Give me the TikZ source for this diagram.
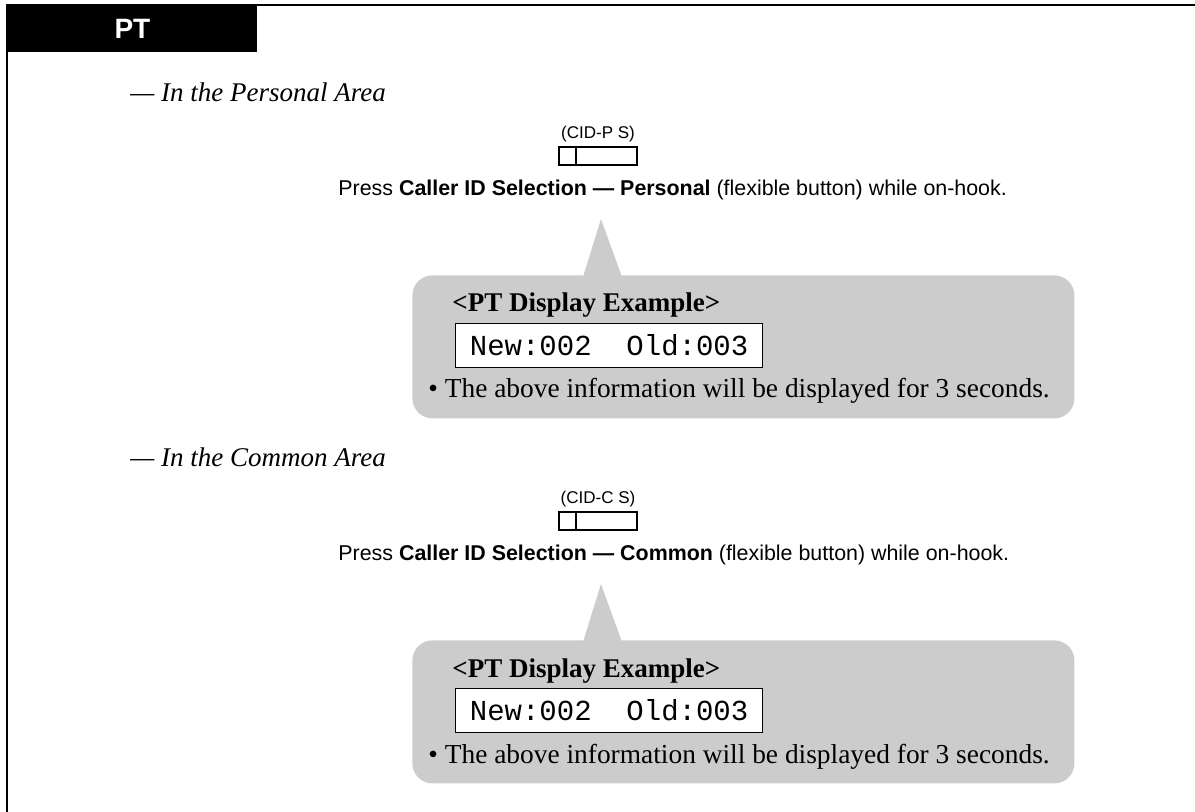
\documentclass[tikz,border=0pt]{standalone}
\usepackage{fontspec}
\setmainfont{Liberation Serif}
\setsansfont{Liberation Sans}
\setmonofont{Liberation Mono}
\usetikzlibrary{positioning, calc}
\definecolor{callout-gray}{RGB}{204, 204, 204}

\begin{document}
\begin{tikzpicture}[x=0.5pt, y=-0.5pt,
        hdrbox/.style={rectangle, fill=black, text=white, anchor=north west,
                    minimum width=125pt, minimum height=24pt, inner sep=0pt,
                    font=\fontsize{14}{16}\selectfont\sffamily\bfseries},
        heading/.style={anchor=base west, inner sep=0pt,
                    font=\fontsize{13.5}{16}\selectfont\itshape},
        key/.style={rectangle, draw, line width=1pt, minimum width=39pt,
                    minimum height=9pt, inner sep=0pt},
        keylabel/.style={inner sep=0pt, font=\fontsize{8.5}{10}\selectfont\sffamily},
        press/.style={anchor=base west, inner sep=0pt,
                    font=\fontsize{10.7}{12}\selectfont\sffamily},
        callout/.style={rectangle, rounded corners=10pt, fill=callout-gray,
                    anchor=north west, minimum width=331pt, minimum height=71.5pt},
        title/.style={anchor=base west, inner sep=0pt,
                    font=\fontsize{13.5}{16}\selectfont\bfseries},
        display/.style={rectangle, draw, fill=white, line width=0.6pt,
                    anchor=north west, minimum height=22pt, minimum width=153.5pt,
                    inner xsep=5pt, inner ysep=0pt, align=left,
                    font=\fontsize{14.5}{16}\selectfont\ttfamily},
        note/.style={anchor=base west, inner sep=0pt,
                    font=\fontsize{13.7}{16}\selectfont}
      ]
        \useasboundingbox (0,0) rectangle (1195,812);
        % frame and header tab
        \draw[line width=1.25pt] (1195,5) -| (7,812);
        \node[hdrbox] (hdr) at (7,4) {PT};

        \foreach \dy/\tag/\area in {0/P/Personal, 365/C/Common} {
          \node[heading] (area-\tag) at (130,102+\dy) {— In the \area\ Area};
          \node[key] (key-\tag) at (598,156+\dy) {};
          \draw[line width=1pt] ($(key-\tag.north west)!0.22!(key-\tag.north east)$)
                -- ($(key-\tag.south west)!0.22!(key-\tag.south east)$);
          \node[keylabel, above=2pt of key-\tag] (lbl-\tag) {(CID-\tag\ S)};
          \node[press] (press-\tag) at (338,196+\dy)
                {Press \textbf{Caller ID Selection — \area} (flexible button) while on-hook.};
          % callout with tail
          \coordinate (tip-\tag) at (601,219+\dy);
          \fill[callout-gray] (tip-\tag) -- ++(-18,58) -- ++(39,0) -- cycle;
          \node[callout] (callout-\tag) at (412,275+\dy) {};
          \node[title] (title-\tag) at (452,312+\dy) {<PT Display Example>};
          \node[display] (disp-\tag) at (455,323+\dy) {New:002\ \ Old:003\hfill};
          \node[note] (note-\tag) at (428,398+\dy)
                {\textbullet\ The above information will be displayed for 3 seconds.};
        }
      \end{tikzpicture}
\end{document}
